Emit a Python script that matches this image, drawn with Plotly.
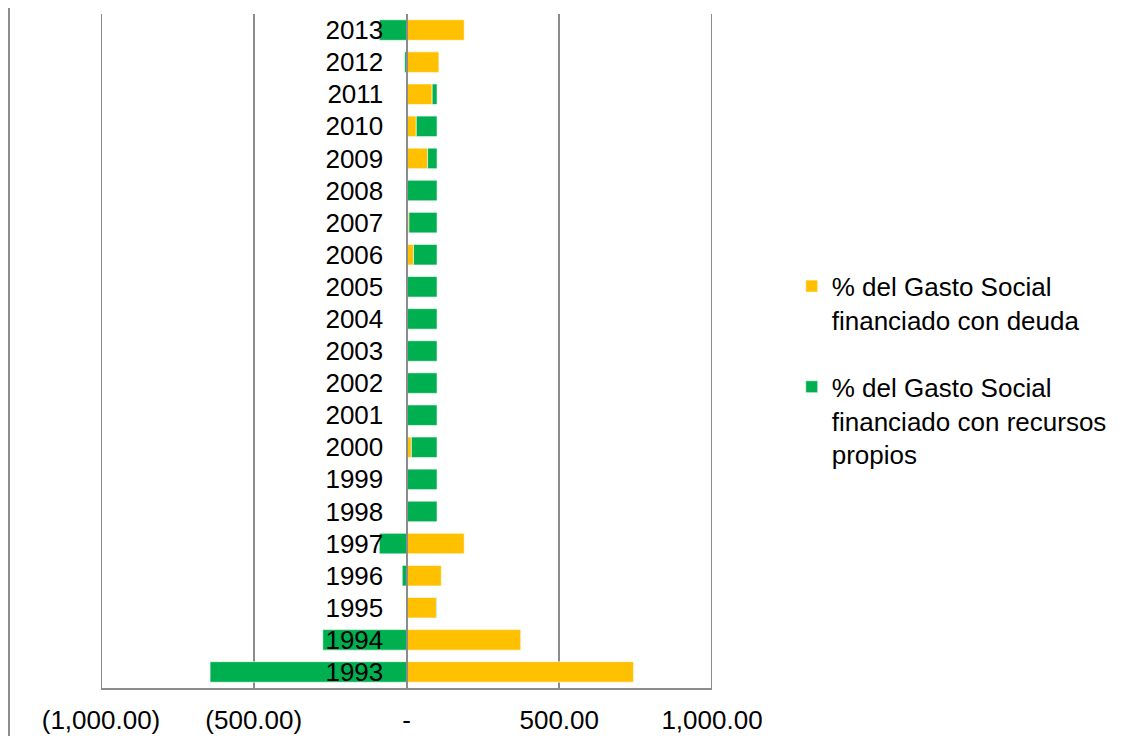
import plotly.graph_objects as go

years = [str(y) for y in range(1993, 2014)]
deuda = [743, 374, 98, 114, 189, 0, 0, 16, 0, 0, 0, 0, 0, 23, 8, 0, 69, 32, 84, 106, 189]
propios = [-643, -274, 2, -14, -89, 100, 100, 84, 100, 100, 100, 100, 100, 77, 92, 100, 31, 68, 16, -6, -89]

tick_vals = [-1000, -500, 0, 500, 1000]
tick_text = ["(1,000.00)", "(500.00)", "-", "500.00", "1,000.00"]

GRID = "#8c8c8c"
FONT = "Liberation Sans, Arial, sans-serif"

fig = go.Figure()
fig.add_trace(go.Bar(
    y=years, x=deuda, orientation="h", name="% del Gasto Social<br>financiado con deuda",
    marker=dict(color="#FFC000", line=dict(color="white", width=0.6)), legendgroup="a"))
fig.add_trace(go.Bar(
    y=years, x=propios, orientation="h",
    name="% del Gasto Social<br>financiado con recursos<br>propios",
    marker=dict(color="#00B050", line=dict(color="white", width=0.6)), legendgroup="b"))

# page body has an 8px margin, so the figure is sized to fit inside it
fig.update_layout(
    barmode="relative", bargap=0.36,
    width=1113, height=728,
    margin=dict(l=93, r=409, t=6, b=48, autoexpand=False),
    paper_bgcolor="white", plot_bgcolor="white",
    font=dict(family=FONT, size=26, color="black"),
    legend=dict(x=1.1305, y=0.631, xanchor="left", yanchor="top",
                traceorder="grouped", tracegroupgap=30, valign="top",
                font=dict(size=26), itemclick=False),
    xaxis=dict(range=[-1000, 1000], tickvals=tick_vals, ticktext=tick_text,
               showgrid=True, gridcolor=GRID, gridwidth=2, zeroline=False,
               showline=True, linecolor=GRID, linewidth=2, ticks="",
               ticklabelstandoff=8, tickfont=dict(size=26), automargin=False),
    yaxis=dict(type="category", anchor="free", position=0.5,
               showgrid=False, zeroline=False, showline=True,
               linecolor=GRID, linewidth=2, ticks="",
               ticklabelstandoff=17, tickfont=dict(size=26),
               layer="above traces", automargin=False),
    shapes=[
        dict(type="line", xref="paper", yref="paper",
             x0=-0.1506, x1=-0.1506, y0=-0.2, y1=1.05,
             line=dict(color=GRID, width=2)),
        dict(type="line", xref="x", yref="paper", x0=-1000, x1=-1000,
             y0=0, y1=1, line=dict(color=GRID, width=2)),
        dict(type="line", xref="x", yref="paper", x0=1000, x1=1000,
             y0=0, y1=1, line=dict(color=GRID, width=2)),
    ],
)

fig.write_html("out.html")
